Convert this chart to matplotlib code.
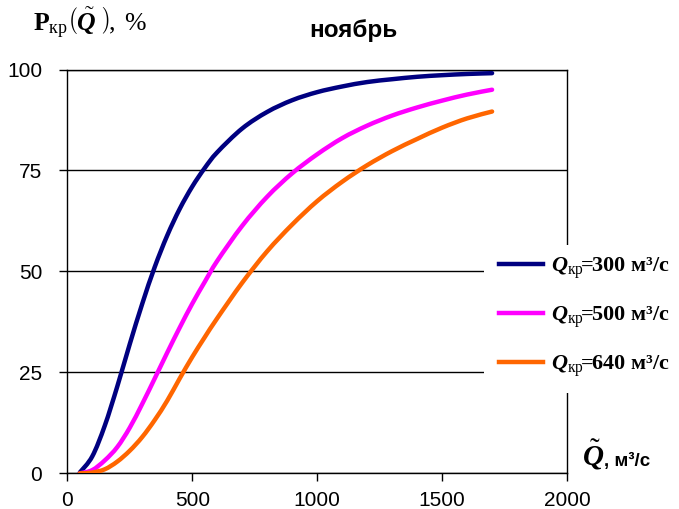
import matplotlib
matplotlib.use("Agg")
import matplotlib.pyplot as plt
from matplotlib.patches import Rectangle, PathPatch
from matplotlib.path import Path
from matplotlib.lines import Line2D

# расход Q, м3/с
q = [50, 100, 150, 200, 250, 300, 350, 400, 450, 500, 550, 600, 700, 800,
     900, 1000, 1100, 1200, 1300, 1400, 1500, 1600, 1700]

# вероятность превышения, % (ноябрь)
p_300 = [0.2, 4.2, 11.8, 21.5, 32.0, 42.0, 51.1, 58.9, 65.5, 71.0, 75.6, 79.5,
         85.4, 89.5, 92.4, 94.4, 95.8, 96.9, 97.6, 98.2, 98.6, 98.9, 99.1]
p_500 = [0.0, 0.8, 3.2, 6.5, 11.3, 17.2, 23.5, 29.9, 36.1, 42.0, 47.4, 52.6,
         61.3, 68.5, 74.3, 79.0, 83.0, 86.1, 88.6, 90.6, 92.3, 93.8, 95.0]
p_640 = [0.0, 0.2, 1.0, 2.9, 5.6, 9.0, 13.2, 18.0, 23.5, 28.8, 33.7, 38.4,
         47.2, 55.0, 61.6, 67.4, 72.2, 76.3, 79.8, 82.8, 85.6, 87.9, 89.6]

labels = ["300", "500", "640"]
colors = ["#000080", "#FF00FF", "#FF6600"]

plt.rcParams["font.family"] = ["Liberation Sans", "DejaVu Sans"]
plt.rcParams["mathtext.fontset"] = "custom"
plt.rcParams["mathtext.rm"] = "Liberation Serif"
plt.rcParams["mathtext.it"] = "Liberation Serif:italic"
plt.rcParams["mathtext.bf"] = "Liberation Serif:bold"
plt.rcParams["mathtext.bfit"] = "Liberation Serif:bold:italic"


def smooth_path(xs, ys):
    # сглаженная линия как в Excel (Catmull-Rom -> кривые Безье)
    pts = list(zip(xs, ys))
    verts = [pts[0]]
    codes = [Path.MOVETO]
    n = len(pts)
    for i in range(n - 1):
        p0 = pts[max(i - 1, 0)]
        p1 = pts[i]
        p2 = pts[i + 1]
        p3 = pts[min(i + 2, n - 1)]
        c1 = (p1[0] + (p2[0] - p0[0]) / 6, p1[1] + (p2[1] - p0[1]) / 6)
        c2 = (p2[0] - (p3[0] - p1[0]) / 6, p2[1] - (p3[1] - p1[1]) / 6)
        verts += [c1, c2, p2]
        codes += [Path.CURVE4] * 3
    return Path(verts, codes)


fig = plt.figure(figsize=(6.79, 5.09), dpi=100)
ax = fig.add_axes([0.0991, 0.0701, 0.736, 0.7933])

handles = []
for ys, c, lab in zip([p_300, p_500, p_640], colors, labels):
    ax.add_patch(PathPatch(smooth_path(q, ys), facecolor="none", edgecolor=c,
                           lw=3.2, capstyle="round", zorder=3))
    handles.append(Line2D([], [], color=c, lw=3.2,
                          label=r"$\mathbfit{Q}_{\mathrm{кр}}\mathbf{\!\!=\!\!" + lab + r"\ м³/с}$"))

ax.set_xlim(0, 2000)
ax.set_ylim(0, 100)
ax.set_xticks([0, 500, 1000, 1500, 2000])
ax.set_yticks([0, 25, 50, 75, 100])
ax.yaxis.grid(True, color="black", lw=1.0)
ax.set_axisbelow(True)
for s in ax.spines.values():
    s.set_color("black")
    s.set_linewidth(1.0)
ax.tick_params(axis="y", direction="out", length=6, width=1, pad=12, labelsize=15)
ax.tick_params(axis="x", direction="out", length=6, width=1, pad=7, labelsize=15)

# белая подложка под легендой
fig.add_artist(Rectangle((484 / 679, 1 - 393 / 509), 195 / 679, 148 / 509,
                         transform=fig.transFigure, facecolor="white",
                         edgecolor="none", zorder=5))
leg = fig.legend(handles=handles, loc="center left",
                 bbox_to_anchor=(499 / 679, 1 - 317 / 509), frameon=False,
                 borderpad=0, borderaxespad=0,
                 handlelength=2.0, labelspacing=1.05, handletextpad=0.35,
                 prop={"size": 16})
leg.set_zorder(6)

fig.text(33 / 679, 1 - 31 / 509,
         r"$\mathbf{P}_{\mathrm{кр}}\left(\tilde{\mathbfit{Q}}\ \right)\!,\ \%$",
         fontsize=18.5, ha="left", va="baseline")
fig.text(353 / 679, 1 - 37 / 509, "ноябрь", fontsize=17.5, fontweight="bold",
         ha="center", va="baseline")
fig.text(582 / 679, 1 - 466 / 509, r"$\tilde{\mathbfit{Q}}$", fontsize=21,
         ha="left", va="baseline")
fig.text(604 / 679, 1 - 466 / 509, ", м³/с", fontsize=13.5, fontweight="bold",
         ha="left", va="baseline")

fig.savefig("out.png", dpi=100)
